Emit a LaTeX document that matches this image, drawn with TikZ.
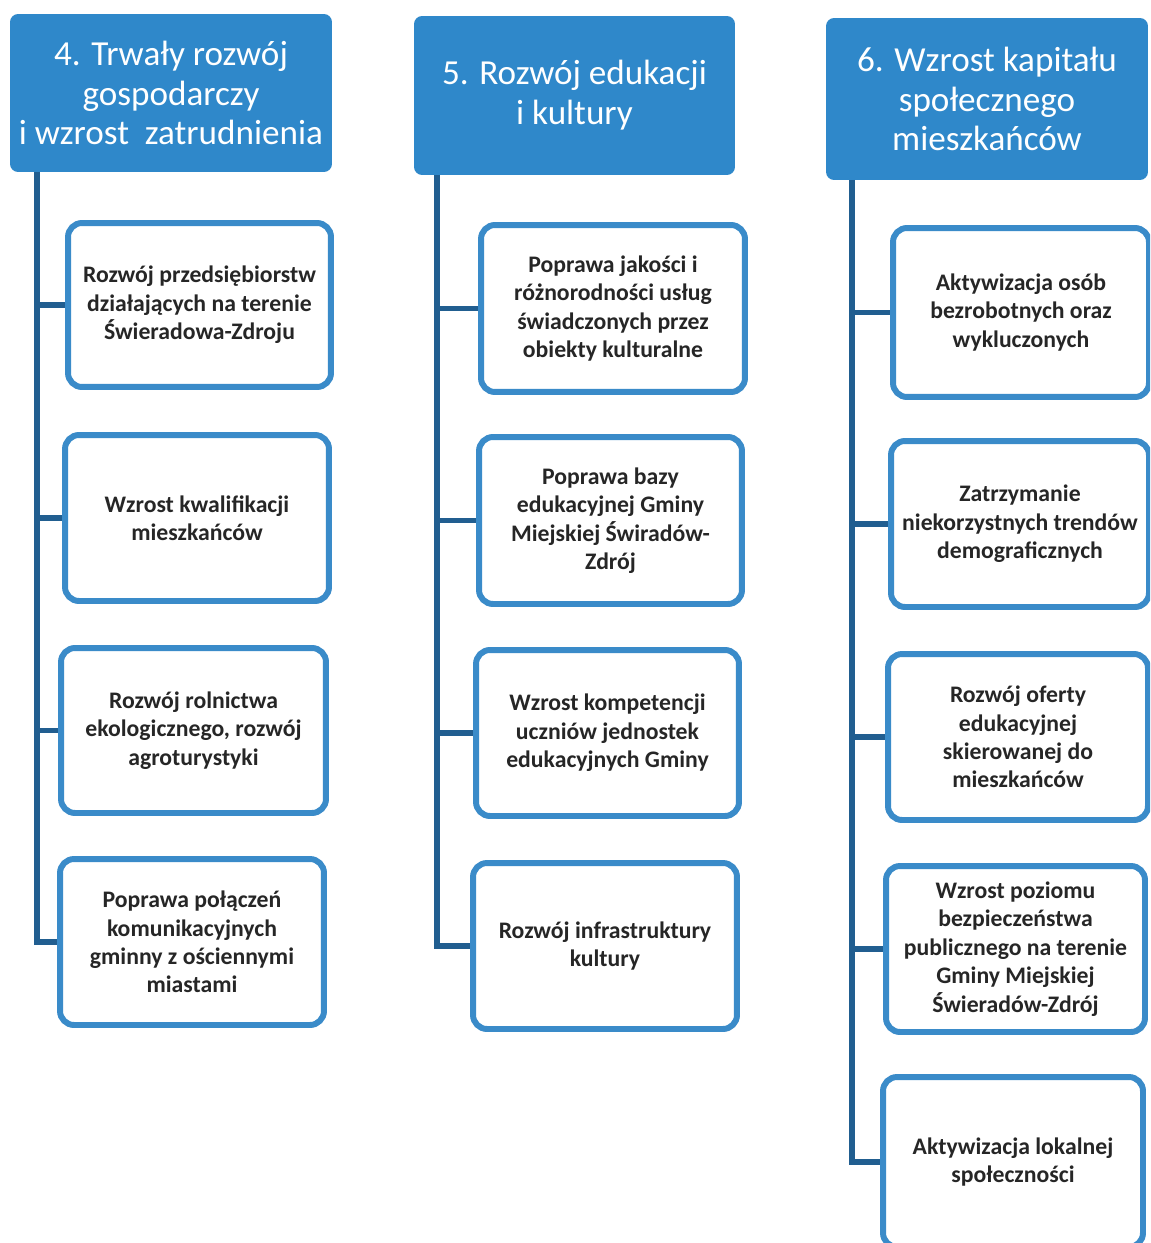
\documentclass[tikz,border=0pt]{standalone}
\usepackage{fontspec}
\setmainfont{Carlito}
\definecolor{headblue}{HTML}{2F88CA}
\definecolor{boxblue}{HTML}{3A8BC9}
\definecolor{spineblue}{HTML}{215E90}
\begin{document}
\begin{tikzpicture}[x=0.02cm,y=-0.02cm,
  head/.style={fill=headblue, rounded corners=0.16cm, text=white, align=center,
    font=\fontsize{20}{22.7}\selectfont, inner sep=0pt},
  sub/.style={draw=boxblue, line width=3.4pt, fill=white, rounded corners=0.28cm,
    align=center, font=\fontsize{13.5}{16.2}\selectfont\bfseries, text=black!85, inner sep=0pt},
  spine/.style={draw=spineblue, line width=3.2pt},
  branch/.style={draw=spineblue, line width=3.4pt}]
\clip (0,0) rectangle (1150,1243);
\fill[white] (0,0) rectangle (1150,1243);
% headers
\node[head, minimum width=6.44cm, minimum height=3.16cm] (H1) at (171,93)
  {4. Trwały rozwój\\gospodarczy\\i wzrost\ \ zatrudnienia};
\node[head, minimum width=6.42cm, minimum height=3.18cm] (H2) at (574.5,95.5)
  {5. Rozwój edukacji\\i kultury};
\node[head, minimum width=6.44cm, minimum height=3.24cm] (H3) at (987,99)
  {6. Wzrost kapitału\\społecznego\\mieszkańców};
% column 1
\node[sub, minimum width=5.26cm, minimum height=3.28cm] (B11) at (199.5,305)
  {Rozwój przedsiębiorstw\\działających na terenie\\Świeradowa-Zdroju};
\node[sub, minimum width=5.28cm, minimum height=3.32cm] (B12) at (197,518)
  {Wzrost kwalifikacji\\mieszkańców};
\node[sub, minimum width=5.30cm, minimum height=3.30cm] (B13) at (193.5,730.5)
  {Rozwój rolnictwa\\ekologicznego, rozwój\\agroturystyki};
\node[sub, minimum width=5.28cm, minimum height=3.32cm] (B14) at (192,942)
  {Poprawa połączeń\\komunikacyjnych\\gminny z ościennymi\\miastami};
% column 2
\node[sub, minimum width=5.28cm, minimum height=3.34cm] (B21) at (613,308.5)
  {Poprawa jakości i\\różnorodności usług\\świadczonych przez\\obiekty kulturalne};
\node[sub, minimum width=5.26cm, minimum height=3.34cm] (B22) at (610.5,520.5)
  {Poprawa bazy\\edukacyjnej Gminy\\Miejskiej Świradów-\\Zdrój};
\node[sub, minimum width=5.26cm, minimum height=3.32cm] (B23) at (607.5,733)
  {Wzrost kompetencji\\uczniów jednostek\\edukacyjnych Gminy};
\node[sub, minimum width=5.28cm, minimum height=3.32cm] (B24) at (605,946)
  {Rozwój infrastruktury\\kultury};
% column 3
\node[sub, minimum width=5.12cm, minimum height=3.38cm] (B31) at (1021,312.5)
  {Aktywizacja osób\\bezrobotnych oraz\\wykluczonych};
\node[sub, minimum width=5.16cm, minimum height=3.32cm] (B32) at (1020,524)
  {Zatrzymanie\\niekorzystnych trendów\\demograficznych};
\node[sub, minimum width=5.20cm, minimum height=3.32cm] (B33) at (1018,737)
  {Rozwój oferty\\edukacyjnej\\skierowanej do\\mieszkańców};
\node[sub, minimum width=5.18cm, minimum height=3.32cm] (B34) at (1015.5,949)
  {Wzrost poziomu\\bezpieczeństwa\\publicznego na terenie\\Gminy Miejskiej\\Świeradów-Zdrój};
\node[sub, minimum width=5.20cm, minimum height=3.40cm] (B35) at (1013,1162)
  {Aktywizacja lokalnej\\społeczności};
% spines
\coordinate (S1) at (37,172);
\coordinate (S2) at (437,175);
\coordinate (S3) at (852,180);
\draw[spine] (S1) |- (B14.west);
\draw[branch] (S1 |- B11.west) -- (B11.west);
\draw[branch] (S1 |- B12.west) -- (B12.west);
\draw[branch] (S1 |- B13.west) -- (B13.west);
\draw[spine] (S2) |- (B24.west);
\draw[branch] (S2 |- B21.west) -- (B21.west);
\draw[branch] (S2 |- B22.west) -- (B22.west);
\draw[branch] (S2 |- B23.west) -- (B23.west);
\draw[spine] (S3) |- (B35.west);
\draw[branch] (S3 |- B31.west) -- (B31.west);
\draw[branch] (S3 |- B32.west) -- (B32.west);
\draw[branch] (S3 |- B33.west) -- (B33.west);
\draw[branch] (S3 |- B34.west) -- (B34.west);
\end{tikzpicture}
\end{document}
